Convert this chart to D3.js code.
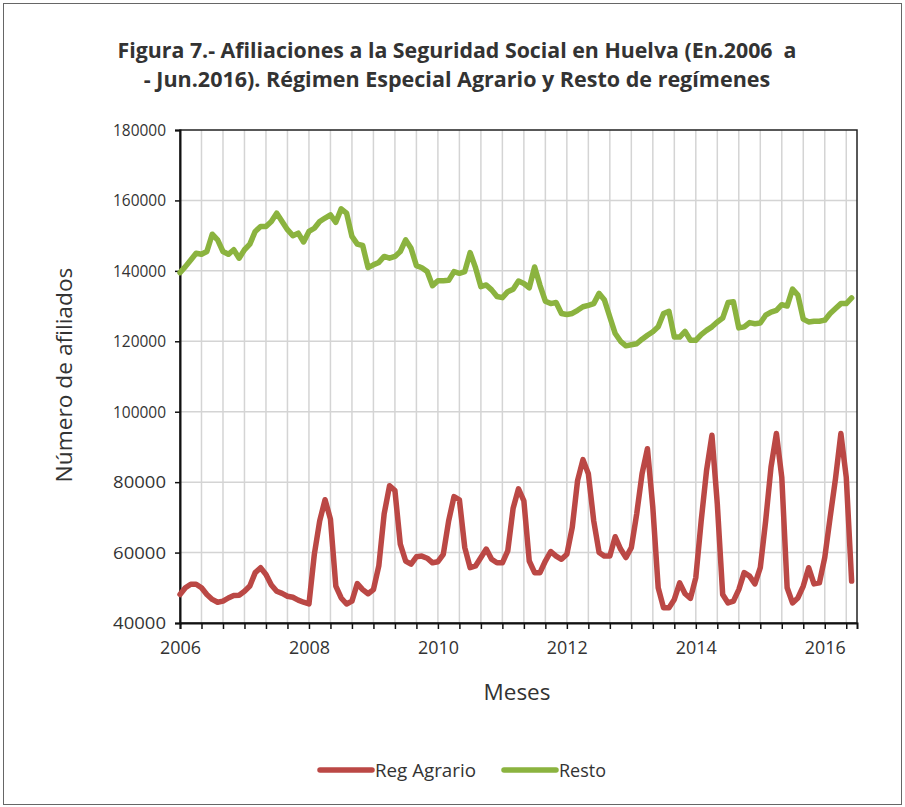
<!DOCTYPE html>
<html>
<head>
<meta charset="utf-8">
<script src="https://cdn.jsdelivr.net/npm/d3@7"></script>
<style>
  body { margin: 0; background: #fff; }
  svg text { font-family: 'Open Sans', 'Noto Sans', sans-serif; fill: #333; }
</style>
</head>
<body>
<svg></svg>
<script>
// monthly values, Jan 2006 .. Jun 2016
const regAgrario = [
  48100, 50000, 51000, 51000, 50000, 48100, 46700, 45900, 46200, 47100, 47800, 47900,
  49000, 50500, 54300, 55700, 53800, 50800, 49000, 48400, 47600, 47300, 46500, 45900,
  45400, 59500, 69000, 75000, 69500, 50500, 47100, 45400, 46200, 51200, 49500, 48300,
  49500, 56200, 71000, 79000, 77600, 62400, 57600, 56700, 58800, 59000, 58400, 57100,
  57400, 59500, 69000, 75900, 75000, 61400, 55700, 56200, 58600, 61000, 58100, 57100,
  57100, 60500, 72600, 78100, 74700, 57600, 54300, 54300, 57600, 60300, 59000, 58100,
  59500, 67100, 80500, 86400, 82400, 69000, 60000, 59000, 59000, 64500, 61000, 58600,
  61400, 71000, 82400, 89500, 72800, 50000, 44300, 44300, 46700, 51400, 48300, 47000,
  52900, 69000, 83300, 93300, 73800, 48100, 45700, 46200, 49500, 54300, 53300, 51100,
  55700, 69000, 84300, 93800, 81400, 50000, 45700, 47100, 50500, 55700, 51100, 51400,
  58600, 70000, 81000, 93800, 81400, 51900
];
const resto = [
  139500, 141200, 143100, 145000, 144700, 145500, 150400, 148800, 145500, 144700, 146000, 143600,
  146000, 147600, 151200, 152600, 152600, 154000, 156400, 154000, 151700, 150000, 150700, 148200,
  151200, 152100, 154000, 155000, 155900, 153800, 157600, 156400, 149800, 147600, 147200, 140900,
  141700, 142400, 144100, 143600, 144100, 145500, 148800, 146400, 141500, 140900, 139800, 135800,
  137200, 137200, 137300, 139800, 139300, 139800, 145200, 140900, 135500, 136000, 134600, 132700,
  132400, 134100, 134800, 137100, 136400, 135200, 141100, 135900, 131400, 130700, 131000, 127900,
  127600, 127900, 128800, 129800, 130200, 130700, 133600, 131700, 126900, 122200, 120000, 118700,
  119000, 119300, 120600, 121700, 122700, 124100, 127900, 128500, 121200, 121200, 122800, 120300,
  120300, 121900, 123100, 124100, 125500, 126600, 131000, 131200, 123800, 124100, 125300, 125000,
  125200, 127400, 128300, 128800, 130400, 130000, 134800, 133100, 126300, 125500, 125700, 125700,
  126000, 127900, 129300, 130700, 130700, 132300
];
const yTicks = [40000, 60000, 80000, 100000, 120000, 140000, 160000, 180000];
const xTickLabels = ['2006', '2008', '2010', '2012', '2014', '2016'];
const seriesNames = ['Reg Agrario', 'Resto'];
const seriesColors = ['#bb4845', '#8bb33f'];
const titleLines = [
  'Figura 7.- Afiliaciones a la Seguridad Social en Huelva (En.2006  a',
  '- Jun.2016). Régimen Especial Agrario y Resto de regímenes'
];

const width = 905;
const height = 807;
const plot = { left: 180, right: 857, top: 130, bottom: 623 };

const svg = d3.select('svg').attr('width', width).attr('height', height);

// squeeze a text horizontally so it fills width w (the original font is narrower)
const squeeze = (sel, w, base) => {
  const len = sel.node().getComputedTextLength();
  sel.attr('transform', `${base} scale(${(w / len).toFixed(3)},1)`);
};

// outer frame
svg.append('rect')
  .attr('x', 3.5).attr('y', 3.5)
  .attr('width', width - 7).attr('height', height - 6)
  .attr('fill', 'none').attr('stroke', '#666').attr('stroke-width', 1);

const xScale = d3.scaleLinear().domain([0, 126]).range([plot.left, plot.right]);
const yScale = d3.scaleLinear().domain([40000, 180000]).range([plot.bottom, plot.top]);

const monthTicks = d3.range(0, 126, 4);

// gridlines
svg.append('g')
  .selectAll('line')
  .data(monthTicks.slice(1))
  .enter()
  .append('line')
  .attr('x1', d => xScale(d)).attr('x2', d => xScale(d))
  .attr('y1', plot.top).attr('y2', plot.bottom)
  .attr('stroke', '#d4d4d4').attr('stroke-width', 1.5);

svg.append('g')
  .selectAll('line')
  .data(yTicks.slice(1, -1))
  .enter()
  .append('line')
  .attr('x1', plot.left).attr('x2', plot.right)
  .attr('y1', d => yScale(d)).attr('y2', d => yScale(d))
  .attr('stroke', '#d4d4d4').attr('stroke-width', 1.5);

// plot border
svg.append('rect')
  .attr('x', plot.left).attr('y', plot.top)
  .attr('width', plot.right - plot.left).attr('height', plot.bottom - plot.top)
  .attr('fill', 'none').attr('stroke', '#222').attr('stroke-width', 1.5);

// axes
const xAxis = d3.axisBottom(xScale)
  .tickValues(monthTicks)
  .tickSize(6)
  .tickPadding(12)
  .tickFormat(d => d % 24 === 0 ? xTickLabels[d / 24] : '');

const gx = svg.append('g')
  .attr('id', 'x-axis')
  .attr('transform', `translate(0,${plot.bottom})`)
  .call(xAxis);
gx.select('.domain').attr('stroke', '#111').attr('stroke-width', 2);
gx.selectAll('.tick line').attr('stroke', '#111').attr('stroke-width', 1.5);
gx.selectAll('text').attr('font-size', 18).attr('fill', '#333')
  .each(function () {
    const t = d3.select(this);
    if (t.text()) squeeze(t, 41, '');
  });

const yAxis = d3.axisLeft(yScale)
  .tickValues(yTicks)
  .tickSize(5)
  .tickPadding(9)
  .tickFormat(d3.format('d'));

const gy = svg.append('g')
  .attr('id', 'y-axis')
  .attr('transform', `translate(${plot.left},0)`)
  .call(yAxis);
gy.select('.domain').attr('stroke', '#111').attr('stroke-width', 2);
gy.selectAll('.tick line').attr('stroke', '#111').attr('stroke-width', 1.5);
gy.selectAll('text').attr('font-size', 17).attr('fill', '#333')
  .each(function () {
    const t = d3.select(this);
    // keep right edge at x = -14 while squeezing
    t.attr('x', 0);
    squeeze(t, 53, 'translate(-14,0)');
  });

// lines
const line = d3.line()
  .x((d, i) => xScale(i))
  .y(d => yScale(d));

[regAgrario, resto].forEach((vals, k) => {
  svg.append('path')
    .datum(vals)
    .attr('d', line)
    .attr('fill', 'none')
    .attr('stroke', seriesColors[k])
    .attr('stroke-width', 5.5)
    .attr('stroke-linejoin', 'round')
    .attr('stroke-linecap', 'round');
});

// title
const titleY = [58, 87];
const titleW = [680, 627];
titleLines.forEach((t, i) => {
  const tt = svg.append('text')
    .attr('text-anchor', 'middle')
    .attr('font-weight', 'bold')
    .attr('font-size', 21)
    .attr('fill', '#1a1a1a')
    .style('white-space', 'pre')
    .text(t);
  squeeze(tt, titleW[i], `translate(457,${titleY[i]})`);
});

// axis titles
const xTitle = svg.append('text')
  .attr('text-anchor', 'middle')
  .attr('font-size', 21)
  .text('Meses');
squeeze(xTitle, 67, 'translate(517,700)');

const yTitle = svg.append('text')
  .attr('text-anchor', 'middle')
  .attr('font-size', 21)
  .text('Número de afiliados');
squeeze(yTitle, 215, 'translate(72,375) rotate(-90)');

// legend
const legendX = [318, 502];
const legendTextW = [101, 47];
seriesNames.forEach((name, i) => {
  const g = svg.append('g').attr('transform', `translate(${legendX[i]},770)`);
  g.append('line')
    .attr('x1', 2).attr('x2', 54)
    .attr('stroke', seriesColors[i])
    .attr('stroke-width', 5.5)
    .attr('stroke-linecap', 'round');
  const lt = g.append('text')
    .attr('font-size', 17.5)
    .text(name);
  squeeze(lt, legendTextW[i], 'translate(57,7)');
});
</script>
</body>
</html>
